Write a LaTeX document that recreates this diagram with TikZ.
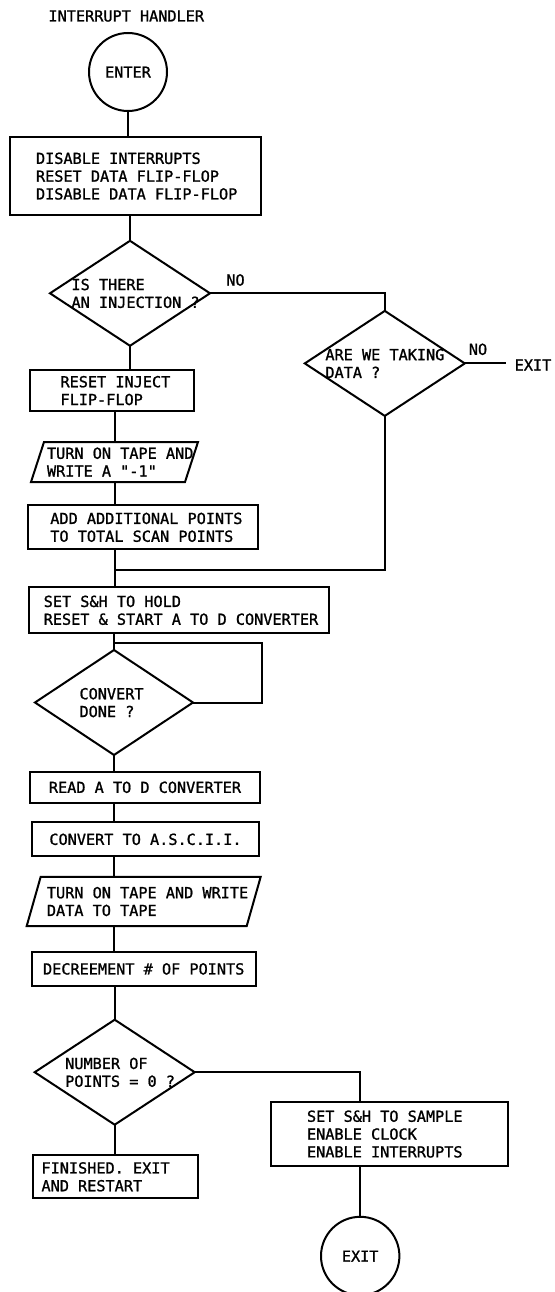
\documentclass[tikz,border=0pt]{standalone}
\usepackage{fontspec}
\newfontfamily\flowmono[FakeBold=1.2]{DejaVu Sans Mono}
\usetikzlibrary{shapes.geometric}
\newcommand\flowtxt[2]{\makebox[0pt][l]{\hspace*{#1}\raisebox{-5.7pt}[0pt][0pt]{\begin{tabular}[c]{@{}l@{}}#2\end{tabular}}}}
\newcommand\flowctr[1]{\makebox[0pt][c]{\raisebox{-5.7pt}[0pt][0pt]{\begin{tabular}[c]{@{}l@{}}#1\end{tabular}}}}
\begin{document}
\begin{tikzpicture}[x=1pt, y=-1pt, line width=2pt,
  every node/.style={font=\flowmono\fontsize{15.2}{17.8}\selectfont, inner sep=0pt, outer sep=0pt},
  box/.style={draw, rectangle},
  dia/.style={draw, diamond, minimum width=160pt, minimum height=105pt},
  term/.style={draw, circle, minimum size=78pt},
  iobox/.style={rectangle},
  lbl/.style={}]
\useasboundingbox (0,0) rectangle (554,1292);

\node[lbl, anchor=west] (title) at (48.5,16) {INTERRUPT HANDLER};
\node[term] (enter) at (128,72) {\flowctr{ENTER}};
\node[box, minimum width=251pt, minimum height=78pt] (b1) at (135.5,176)
  {\flowtxt{-99.5pt}{DISABLE INTERRUPTS\\RESET DATA FLIP-FLOP\\DISABLE DATA FLIP-FLOP}};
\node[dia] (d1) at (130,293.3) {\flowtxt{-58.5pt}{IS THERE\\AN INJECTION ?}};
\node[lbl] (no1) at (235.5,280) {NO};
\node[dia] (d2) at (384.8,363.4) {\flowtxt{-59.4pt}{ARE WE TAKING\\DATA ?}};
\node[lbl] (no2) at (478,349.3) {NO};
\coordinate (xe) at (505.7,363.4);
\node[lbl] (exitlbl) at (533,365) {EXIT};
\node[box, minimum width=164pt, minimum height=41pt] (rst) at (112,390.5)
  {\flowtxt{-51.5pt}{RESET INJECT\\FLIP-FLOP}};
\node[iobox, minimum width=167pt, minimum height=40pt] (io1) at (114.5,462)
  {\flowtxt{-67.5pt}{TURN ON TAPE AND\\WRITE A "-1"}};
\node[box, minimum width=230pt, minimum height=44.3pt] (add) at (143.3,527.2)
  {\flowtxt{-93pt}{ADD ADDITIONAL POINTS\\TO TOTAL SCAN POINTS}};
\coordinate (jn) at (114.5,570);
\node[box, minimum width=299.7pt, minimum height=46.3pt] (hold) at (179.2,610.2)
  {\flowtxt{-135.5pt}{SET S\&H TO HOLD\\RESET \& START A TO D CONVERTER}};
\node[dia, minimum width=158pt] (d3) at (114,702.5) {\flowtxt{-34.5pt}{CONVERT\\DONE ?}};
\coordinate (lpc) at (261.7,643.3);
\node[box, minimum width=230pt, minimum height=31pt] (read) at (145,787.2)
  {\flowctr{READ A TO D CONVERTER}};
\node[box, minimum width=227.6pt, minimum height=33.7pt] (ascii) at (145.5,839.2)
  {\flowctr{CONVERT TO A.S.C.I.I.}};
\node[iobox, minimum width=234pt, minimum height=49.3pt] (io2) at (143.7,901.4)
  {\flowtxt{-96.8pt}{TURN ON TAPE AND WRITE\\DATA TO TAPE}};
\node[box, minimum width=224pt, minimum height=34.3pt] (decr) at (143.7,968.8)
  {\flowctr{DECREEMENT \# OF POINTS}};
\node[dia] (d4) at (114.7,1072.2) {\flowtxt{-49.5pt}{NUMBER OF\\POINTS = 0 ?}};
\node[box, minimum width=164.4pt, minimum height=43.3pt] (fin) at (115.5,1176.7)
  {\flowtxt{-74pt}{FINISHED. EXIT\\AND RESTART}};
\node[box, minimum width=237.6pt, minimum height=64.3pt] (samp) at (389.5,1133.9)
  {\flowtxt{-82.5pt}{SET S\&H TO SAMPLE\\ENABLE CLOCK\\ENABLE INTERRUPTS}};
\node[term, minimum size=78.4pt] (ex) at (360.2,1256) {\flowctr{EXIT}};

% parallelogram outlines
\draw ([xshift=13pt]io1.north west) -- (io1.north east) -- ([xshift=-13pt]io1.south east) -- (io1.south west) -- cycle;
\draw ([xshift=14pt]io2.north west) -- (io2.north east) -- ([xshift=-14pt]io2.south east) -- (io2.south west) -- cycle;

% connectors
\draw (enter.south) -- (enter.south |- b1.north);
\draw (b1.south -| d1.north) -- (d1.north);
\draw (d1.south) -- (d1.south |- rst.north);
\draw (rst.south -| io1.north) -- (io1.north);
\draw (io1.south) -- (io1.south |- add.north);
\draw (add.south -| io1.south) -- (hold.north -| io1.south);
\draw (d1.east) -| (d2.north);
\draw (d2.east) -- (xe);
\draw (d2.south) |- (jn);
\draw (hold.south -| d3.north) -- (d3.north);
\draw (d3.east) -| (lpc) -- (lpc -| d3.north);
\draw (d3.south) -- (d3.south |- read.north);
\draw (read.south -| d3.south) -- (ascii.north -| d3.south);
\draw (ascii.south -| d3.south) -- (io2.north -| d3.south);
\draw (io2.south -| d3.south) -- (decr.north -| d3.south);
\draw (decr.south -| d4.north) -- (d4.north);
\draw (d4.south) -- (d4.south |- fin.north);
\draw (d4.east) -| (samp.north -| ex.north);
\draw (samp.south -| ex.north) -- (ex.north);
\end{tikzpicture}
\end{document}
